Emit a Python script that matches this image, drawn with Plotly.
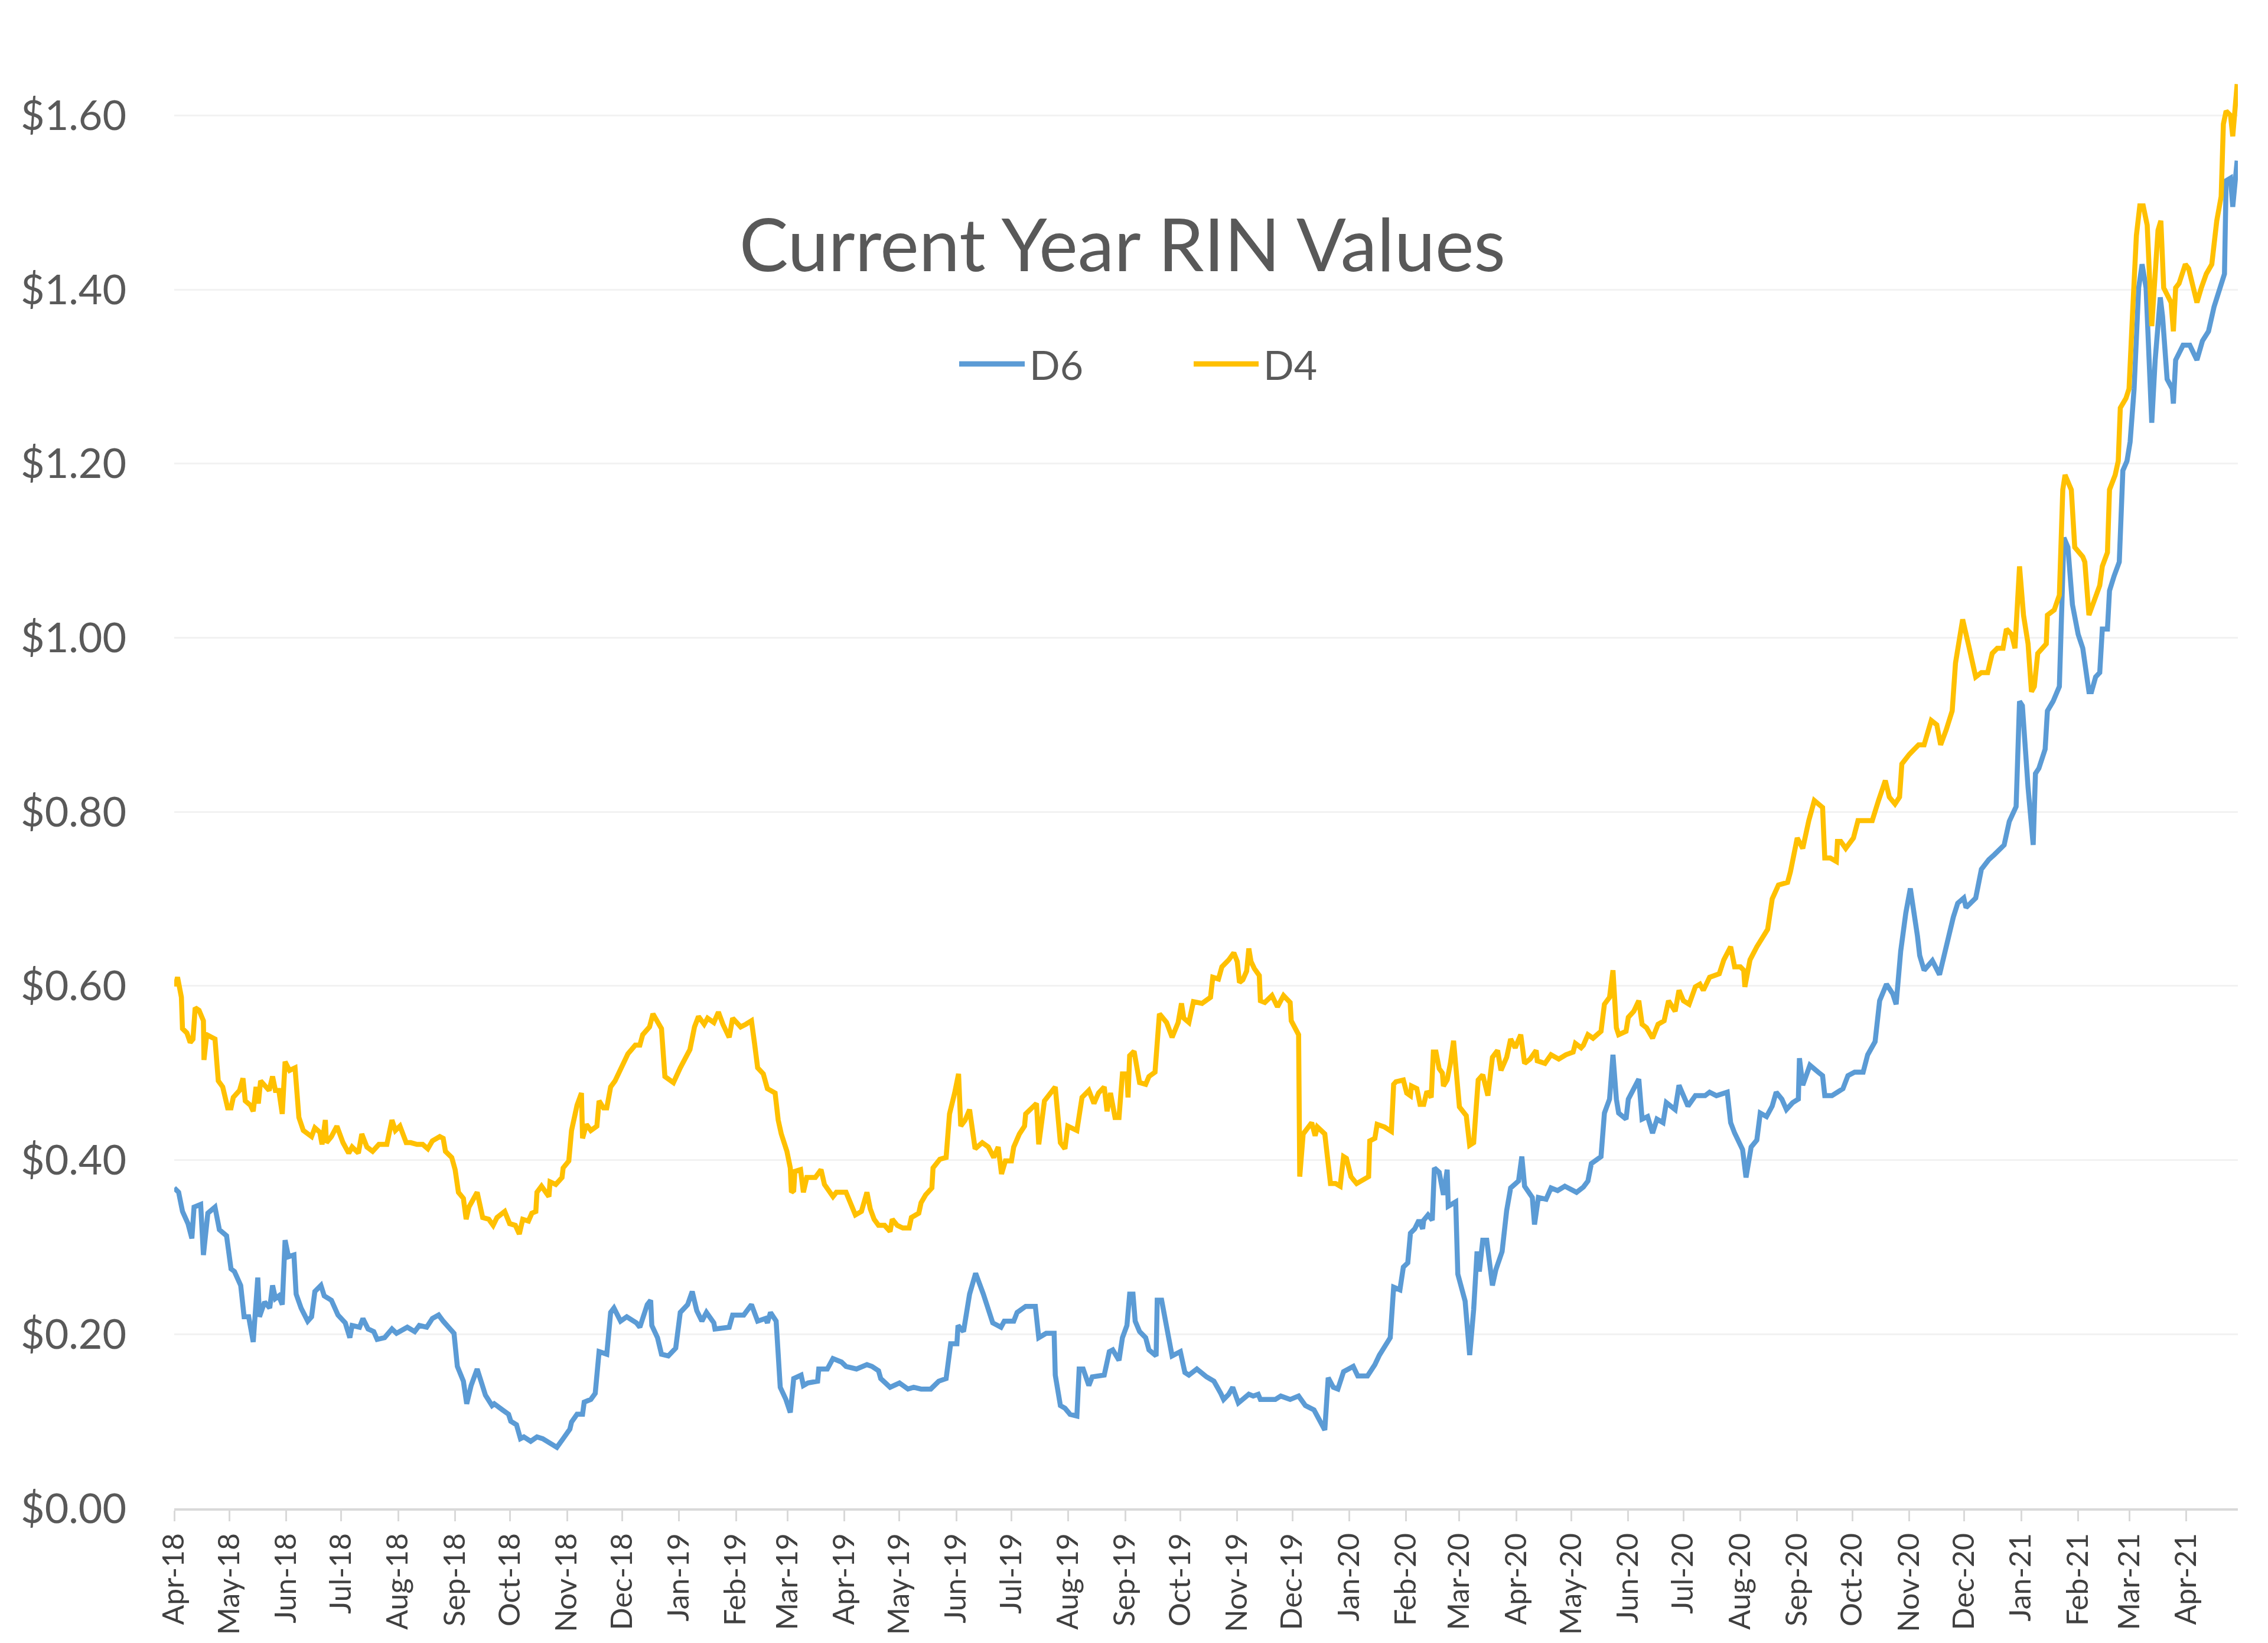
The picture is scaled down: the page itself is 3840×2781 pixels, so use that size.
import math
import pandas as pd
import plotly.graph_objects as go

# ---------------- data (positions in months since Apr-2018, values in $) ----------------
D6_month_pos = [
    0.00, 0.08, 0.15, 0.25, 0.32, 0.36, 0.48, 0.53, 0.61, 0.74, 0.82, 0.95, 1.03, 1.09, 1.20, 1.26,
    1.34, 1.42, 1.50, 1.53, 1.62, 1.71, 1.76, 1.81, 1.87, 1.93, 1.98, 2.04, 2.14, 2.18, 2.27, 2.39,
    2.46, 2.52, 2.63, 2.69, 2.82, 2.94, 3.07, 3.15, 3.19, 3.32, 3.38, 3.47, 3.57, 3.63, 3.76, 3.89,
    3.97, 4.16, 4.29, 4.37, 4.50, 4.60, 4.71, 4.79, 4.98, 5.04, 5.15, 5.21, 5.29, 5.40, 5.48, 5.55,
    5.67, 5.71, 5.86, 5.97, 6.01, 6.11, 6.18, 6.24, 6.36, 6.47, 6.57, 6.82, 6.93, 7.05, 7.08, 7.18,
    7.28, 7.31, 7.43, 7.51, 7.58, 7.72, 7.79, 7.85, 7.97, 8.08, 8.25, 8.31, 8.44, 8.50, 8.52, 8.62,
    8.69, 8.81, 8.94, 9.02, 9.15, 9.23, 9.31, 9.40, 9.48, 9.61, 9.63, 9.88, 9.94, 10.15, 10.30, 10.42,
    10.57, 10.61, 10.67, 10.78, 10.86, 10.97, 11.05, 11.11, 11.24, 11.28, 11.36, 11.53, 11.55, 11.70, 11.80, 11.95,
    12.03, 12.22, 12.41, 12.50, 12.62, 12.66, 12.83, 13.00, 13.15, 13.25, 13.38, 13.55, 13.69, 13.82, 13.90, 14.01,
    14.03, 14.13, 14.24, 14.35, 14.49, 14.66, 14.81, 14.87, 15.04, 15.10, 15.25, 15.42, 15.48, 15.61, 15.75, 15.77,
    15.86, 15.94, 16.03, 16.15, 16.19, 16.26, 16.36, 16.42, 16.63, 16.72, 16.78, 16.89, 16.95, 17.03, 17.08, 17.14,
    17.18, 17.26, 17.37, 17.43, 17.56, 17.58, 17.66, 17.75, 17.85, 18.00, 18.08, 18.15, 18.29, 18.46, 18.59, 18.71,
    18.76, 18.85, 18.92, 19.02, 19.21, 19.29, 19.38, 19.42, 19.69, 19.79, 19.96, 20.11, 20.23, 20.38, 20.49, 20.57,
    20.63, 20.72, 20.80, 20.90, 21.07, 21.15, 21.32, 21.45, 21.53, 21.72, 21.78, 21.89, 21.95, 22.03, 22.08, 22.16,
    22.24, 22.31, 22.33, 22.41, 22.49, 22.53, 22.62, 22.70, 22.77, 22.79, 22.93, 22.97, 23.10, 23.18, 23.25, 23.31,
    23.35, 23.41, 23.48, 23.58, 23.64, 23.75, 23.83, 23.90, 24.04, 24.10, 24.15, 24.29, 24.33, 24.40, 24.54, 24.63,
    24.75, 24.88, 25.09, 25.21, 25.29, 25.35, 25.52, 25.58, 25.67, 25.73, 25.79, 25.83, 25.96, 26.00, 26.19, 26.25,
    26.35, 26.44, 26.52, 26.63, 26.69, 26.85, 26.92, 27.08, 27.21, 27.38, 27.46, 27.58, 27.77, 27.83, 27.90, 28.00,
    28.04, 28.10, 28.19, 28.29, 28.35, 28.46, 28.56, 28.63, 28.73, 28.81, 28.92, 29.02, 29.04, 29.10, 29.23, 29.38,
    29.46, 29.50, 29.63, 29.73, 29.83, 29.92, 30.04, 30.19, 30.27, 30.40, 30.48, 30.60, 30.71, 30.77, 30.85, 30.94,
    31.02, 31.15, 31.19, 31.27, 31.42, 31.55, 31.67, 31.80, 31.88, 31.99, 32.03, 32.20, 32.30, 32.43, 32.53, 32.70,
    32.79, 32.91, 32.97, 33.02, 33.12, 33.21, 33.25, 33.31, 33.42, 33.46, 33.56, 33.67, 33.75, 33.82, 33.90, 34.00,
    34.09, 34.17, 34.21, 34.26, 34.34, 34.42, 34.47, 34.57, 34.61, 34.70, 34.80, 34.87, 34.95, 35.01, 35.08, 35.16,
    35.22, 35.29, 35.35, 35.39, 35.45, 35.54, 35.58, 35.66, 35.75, 35.77, 35.81, 35.94, 36.06, 36.19, 36.29, 36.40,
    36.50, 36.61, 36.69, 36.72, 36.80, 36.84, 36.92,
]
D6_values = [
    0.368, 0.363, 0.341, 0.327, 0.310, 0.346, 0.349, 0.291, 0.339, 0.346, 0.320, 0.313, 0.275, 0.272, 0.256, 0.220,
    0.220, 0.191, 0.265, 0.220, 0.237, 0.230, 0.256, 0.241, 0.244, 0.234, 0.308, 0.289, 0.291, 0.246, 0.230, 0.215,
    0.220, 0.249, 0.256, 0.244, 0.239, 0.222, 0.213, 0.196, 0.210, 0.208, 0.218, 0.206, 0.203, 0.194, 0.196, 0.206,
    0.201, 0.208, 0.203, 0.210, 0.208, 0.218, 0.222, 0.215, 0.201, 0.163, 0.146, 0.120, 0.141, 0.160, 0.144, 0.130,
    0.118, 0.120, 0.113, 0.108, 0.100, 0.096, 0.080, 0.082, 0.077, 0.082, 0.080, 0.070, 0.080, 0.091, 0.099, 0.108,
    0.108, 0.122, 0.125, 0.132, 0.180, 0.177, 0.225, 0.230, 0.215, 0.220, 0.213, 0.208, 0.234, 0.239, 0.210, 0.196,
    0.177, 0.175, 0.184, 0.225, 0.234, 0.249, 0.227, 0.215, 0.225, 0.213, 0.206, 0.208, 0.222, 0.222, 0.234, 0.215,
    0.218, 0.213, 0.225, 0.215, 0.139, 0.125, 0.110, 0.149, 0.153, 0.141, 0.144, 0.146, 0.160, 0.160, 0.172, 0.168,
    0.163, 0.160, 0.165, 0.163, 0.158, 0.149, 0.139, 0.144, 0.137, 0.139, 0.137, 0.137, 0.146, 0.149, 0.189, 0.189,
    0.210, 0.203, 0.246, 0.270, 0.246, 0.213, 0.208, 0.215, 0.215, 0.225, 0.232, 0.232, 0.196, 0.201, 0.201, 0.153,
    0.118, 0.115, 0.108, 0.106, 0.160, 0.160, 0.141, 0.151, 0.153, 0.180, 0.182, 0.170, 0.196, 0.210, 0.246, 0.246,
    0.215, 0.203, 0.196, 0.182, 0.175, 0.239, 0.239, 0.210, 0.175, 0.180, 0.156, 0.153, 0.160, 0.151, 0.146, 0.132,
    0.125, 0.131, 0.139, 0.121, 0.131, 0.129, 0.131, 0.125, 0.125, 0.129, 0.125, 0.129, 0.118, 0.113, 0.100, 0.090,
    0.150, 0.139, 0.137, 0.157, 0.163, 0.152, 0.152, 0.165, 0.176, 0.196, 0.254, 0.251, 0.277, 0.282, 0.316, 0.321,
    0.331, 0.321, 0.331, 0.337, 0.331, 0.391, 0.386, 0.360, 0.389, 0.347, 0.352, 0.269, 0.238, 0.176, 0.228, 0.295,
    0.272, 0.308, 0.308, 0.256, 0.274, 0.295, 0.342, 0.368, 0.376, 0.404, 0.370, 0.357, 0.326, 0.357, 0.355, 0.368,
    0.365, 0.370, 0.363, 0.369, 0.376, 0.396, 0.404, 0.454, 0.470, 0.521, 0.470, 0.454, 0.447, 0.470, 0.493, 0.447,
    0.450, 0.431, 0.447, 0.443, 0.466, 0.458, 0.486, 0.462, 0.474, 0.474, 0.478, 0.474, 0.478, 0.443, 0.431, 0.419,
    0.412, 0.380, 0.415, 0.423, 0.454, 0.450, 0.462, 0.478, 0.470, 0.458, 0.466, 0.470, 0.517, 0.486, 0.509, 0.501,
    0.497, 0.474, 0.474, 0.478, 0.482, 0.497, 0.501, 0.501, 0.521, 0.536, 0.583, 0.602, 0.591, 0.579, 0.640, 0.684,
    0.712, 0.657, 0.635, 0.618, 0.629, 0.613, 0.646, 0.679, 0.695, 0.701, 0.690, 0.701, 0.734, 0.745, 0.751, 0.762,
    0.789, 0.806, 0.927, 0.922, 0.828, 0.762, 0.844, 0.850, 0.872, 0.916, 0.927, 0.944, 1.115, 1.104, 1.038, 1.004,
    0.988, 0.960, 0.938, 0.938, 0.955, 0.960, 1.010, 1.010, 1.054, 1.071, 1.087, 1.192, 1.203, 1.225, 1.286, 1.402,
    1.429, 1.402, 1.313, 1.247, 1.319, 1.391, 1.369, 1.297, 1.286, 1.269, 1.319, 1.336, 1.336, 1.319, 1.341, 1.352,
    1.380, 1.402, 1.418, 1.525, 1.528, 1.495, 1.548,
]

D4_month_pos = [
    0.00, 0.02, 0.06, 0.13, 0.15, 0.23, 0.29, 0.34, 0.38, 0.45, 0.53, 0.54, 0.59, 0.67, 0.74, 0.80,
    0.88, 0.97, 1.03, 1.07, 1.18, 1.24, 1.28, 1.37, 1.42, 1.47, 1.51, 1.55, 1.64, 1.70, 1.76, 1.81,
    1.87, 1.93, 1.98, 2.06, 2.16, 2.23, 2.31, 2.39, 2.46, 2.52, 2.61, 2.65, 2.71, 2.73, 2.82, 2.92,
    3.03, 3.13, 3.19, 3.30, 3.36, 3.45, 3.55, 3.66, 3.80, 3.89, 3.95, 4.03, 4.14, 4.22, 4.33, 4.43,
    4.52, 4.60, 4.73, 4.79, 4.83, 4.94, 5.00, 5.06, 5.15, 5.20, 5.25, 5.40, 5.50, 5.61, 5.69, 5.76,
    5.90, 5.99, 6.09, 6.16, 6.22, 6.32, 6.38, 6.45, 6.47, 6.55, 6.62, 6.68, 6.70, 6.80, 6.91, 6.93,
    7.03, 7.08, 7.18, 7.26, 7.28, 7.35, 7.43, 7.54, 7.58, 7.66, 7.72, 7.79, 7.87, 8.02, 8.10, 8.23,
    8.31, 8.36, 8.48, 8.54, 8.58, 8.69, 8.75, 8.90, 9.02, 9.19, 9.27, 9.34, 9.44, 9.50, 9.61, 9.69,
    9.77, 9.88, 9.94, 10.09, 10.19, 10.30, 10.36, 10.42, 10.53, 10.61, 10.76, 10.82, 10.88, 10.99, 11.05, 11.07,
    11.11, 11.13, 11.23, 11.28, 11.34, 11.49, 11.59, 11.65, 11.80, 11.86, 12.03, 12.11, 12.20, 12.31, 12.41, 12.47,
    12.54, 12.62, 12.73, 12.83, 12.87, 12.96, 13.06, 13.17, 13.21, 13.34, 13.38, 13.46, 13.57, 13.59, 13.71, 13.82,
    13.88, 13.97, 14.04, 14.08, 14.16, 14.24, 14.34, 14.47, 14.58, 14.68, 14.76, 14.82, 14.89, 15.00, 15.04, 15.14,
    15.23, 15.25, 15.39, 15.44, 15.48, 15.58, 15.77, 15.86, 15.94, 15.99, 16.15, 16.24, 16.36, 16.45, 16.53, 16.63,
    16.68, 16.74, 16.82, 16.89, 16.95, 17.03, 17.05, 17.08, 17.16, 17.26, 17.37, 17.43, 17.54, 17.62, 17.75, 17.85,
    17.96, 18.02, 18.06, 18.15, 18.23, 18.38, 18.53, 18.57, 18.67, 18.73, 18.85, 18.94, 19.00, 19.04, 19.10, 19.17,
    19.21, 19.25, 19.31, 19.40, 19.42, 19.50, 19.63, 19.73, 19.84, 19.96, 19.98, 20.11, 20.13, 20.19, 20.34, 20.40,
    20.44, 20.57, 20.67, 20.76, 20.84, 20.90, 20.95, 21.03, 21.13, 21.24, 21.34, 21.36, 21.45, 21.49, 21.62, 21.74,
    21.78, 21.82, 21.95, 22.01, 22.08, 22.10, 22.20, 22.26, 22.33, 22.39, 22.47, 22.51, 22.56, 22.62, 22.68, 22.70,
    22.77, 22.83, 22.89, 23.00, 23.12, 23.18, 23.25, 23.33, 23.41, 23.50, 23.58, 23.67, 23.73, 23.83, 23.90, 23.98,
    24.08, 24.15, 24.25, 24.36, 24.38, 24.52, 24.63, 24.77, 24.90, 25.03, 25.07, 25.17, 25.21, 25.29, 25.38, 25.52,
    25.58, 25.67, 25.73, 25.79, 25.83, 25.96, 26.00, 26.10, 26.19, 26.25, 26.33, 26.44, 26.54, 26.65, 26.73, 26.85,
    26.92, 27.00, 27.10, 27.21, 27.29, 27.35, 27.46, 27.63, 27.71, 27.83, 27.90, 28.00, 28.06, 28.08, 28.17, 28.29,
    28.40, 28.48, 28.56, 28.67, 28.83, 28.88, 29.00, 29.10, 29.21, 29.31, 29.46, 29.50, 29.60, 29.71, 29.73, 29.79,
    29.88, 30.02, 30.10, 30.21, 30.35, 30.46, 30.58, 30.65, 30.75, 30.83, 30.87, 31.00, 31.08, 31.17, 31.27, 31.40,
    31.50, 31.57, 31.67, 31.78, 31.84, 31.97, 32.07, 32.20, 32.30, 32.41, 32.49, 32.58, 32.68, 32.74, 32.83, 32.89,
    32.97, 33.04, 33.12, 33.18, 33.23, 33.29, 33.44, 33.46, 33.58, 33.67, 33.73, 33.77, 33.88, 33.94, 34.09, 34.13,
    34.21, 34.28, 34.38, 34.42, 34.47, 34.57, 34.61, 34.72, 34.78, 34.82, 34.93, 34.99, 35.05, 35.12, 35.18, 35.24,
    35.31, 35.37, 35.39, 35.50, 35.55, 35.60, 35.64, 35.73, 35.77, 35.81, 35.87, 35.98, 36.04, 36.15, 36.19, 36.27,
    36.36, 36.46, 36.55, 36.63, 36.67, 36.72, 36.80, 36.84, 36.92,
]
D4_values = [
    0.606, 0.600, 0.610, 0.587, 0.551, 0.546, 0.535, 0.539, 0.575, 0.572, 0.560, 0.515, 0.544, 0.541, 0.539, 0.491,
    0.484, 0.460, 0.460, 0.472, 0.480, 0.494, 0.468, 0.463, 0.456, 0.484, 0.465, 0.491, 0.484, 0.480, 0.496, 0.480,
    0.480, 0.453, 0.513, 0.503, 0.506, 0.449, 0.434, 0.430, 0.427, 0.437, 0.432, 0.418, 0.446, 0.420, 0.427, 0.439,
    0.420, 0.408, 0.415, 0.408, 0.430, 0.415, 0.410, 0.418, 0.418, 0.446, 0.434, 0.439, 0.420, 0.420, 0.418, 0.418,
    0.413, 0.422, 0.427, 0.425, 0.410, 0.403, 0.389, 0.363, 0.356, 0.332, 0.346, 0.363, 0.334, 0.332, 0.325, 0.334,
    0.341, 0.327, 0.325, 0.315, 0.332, 0.330, 0.339, 0.341, 0.363, 0.370, 0.363, 0.358, 0.375, 0.372, 0.380, 0.391,
    0.399, 0.434, 0.463, 0.477, 0.425, 0.441, 0.434, 0.439, 0.468, 0.460, 0.460, 0.484, 0.491, 0.513, 0.522, 0.532,
    0.532, 0.544, 0.553, 0.568, 0.563, 0.551, 0.496, 0.489, 0.506, 0.527, 0.553, 0.565, 0.556, 0.563, 0.558, 0.570,
    0.556, 0.541, 0.563, 0.553, 0.556, 0.560, 0.534, 0.506, 0.499, 0.482, 0.477, 0.446, 0.430, 0.410, 0.391, 0.363,
    0.365, 0.387, 0.389, 0.363, 0.380, 0.380, 0.389, 0.372, 0.358, 0.363, 0.363, 0.351, 0.337, 0.341, 0.363, 0.344,
    0.332, 0.325, 0.325, 0.318, 0.332, 0.325, 0.322, 0.322, 0.334, 0.339, 0.351, 0.360, 0.368, 0.391, 0.401, 0.403,
    0.453, 0.477, 0.499, 0.439, 0.446, 0.458, 0.413, 0.420, 0.415, 0.403, 0.415, 0.384, 0.399, 0.399, 0.415, 0.430,
    0.439, 0.453, 0.463, 0.465, 0.418, 0.468, 0.484, 0.420, 0.413, 0.439, 0.434, 0.472, 0.480, 0.465, 0.477, 0.484,
    0.456, 0.477, 0.449, 0.449, 0.499, 0.499, 0.472, 0.520, 0.525, 0.489, 0.487, 0.496, 0.501, 0.568, 0.558, 0.541,
    0.558, 0.580, 0.563, 0.558, 0.582, 0.580, 0.587, 0.610, 0.608, 0.622, 0.630, 0.638, 0.628, 0.604, 0.607, 0.617,
    0.643, 0.628, 0.620, 0.612, 0.583, 0.581, 0.589, 0.576, 0.589, 0.581, 0.560, 0.544, 0.381, 0.430, 0.443, 0.428,
    0.438, 0.430, 0.373, 0.373, 0.370, 0.404, 0.402, 0.381, 0.373, 0.378, 0.381, 0.422, 0.425, 0.441, 0.438, 0.433,
    0.487, 0.490, 0.492, 0.477, 0.474, 0.485, 0.482, 0.464, 0.464, 0.479, 0.472, 0.524, 0.524, 0.505, 0.500, 0.485,
    0.492, 0.511, 0.537, 0.461, 0.451, 0.417, 0.420, 0.492, 0.498, 0.474, 0.518, 0.526, 0.503, 0.518, 0.539, 0.529,
    0.544, 0.511, 0.516, 0.526, 0.514, 0.511, 0.521, 0.516, 0.521, 0.524, 0.534, 0.529, 0.532, 0.544, 0.540, 0.548,
    0.579, 0.587, 0.618, 0.552, 0.544, 0.548, 0.564, 0.571, 0.583, 0.556, 0.552, 0.540, 0.556, 0.560, 0.583, 0.571,
    0.595, 0.583, 0.579, 0.599, 0.602, 0.595, 0.610, 0.614, 0.630, 0.645, 0.622, 0.622, 0.618, 0.599, 0.630, 0.645,
    0.657, 0.665, 0.700, 0.716, 0.719, 0.731, 0.770, 0.758, 0.790, 0.813, 0.805, 0.747, 0.747, 0.743, 0.766, 0.766,
    0.758, 0.770, 0.790, 0.790, 0.790, 0.813, 0.836, 0.817, 0.809, 0.817, 0.855, 0.866, 0.872, 0.877, 0.877, 0.905,
    0.900, 0.877, 0.894, 0.916, 0.971, 1.021, 0.993, 0.955, 0.960, 0.960, 0.982, 0.988, 0.988, 1.010, 1.004, 0.988,
    1.082, 1.026, 0.993, 0.938, 0.944, 0.982, 0.993, 1.026, 1.032, 1.049, 1.170, 1.187, 1.170, 1.104, 1.093, 1.087,
    1.026, 1.037, 1.054, 1.060, 1.082, 1.098, 1.170, 1.187, 1.203, 1.264, 1.275, 1.286, 1.369, 1.462, 1.496, 1.496,
    1.474, 1.369, 1.358, 1.468, 1.479, 1.402, 1.396, 1.385, 1.352, 1.402, 1.407, 1.429, 1.424, 1.391, 1.385, 1.402,
    1.418, 1.429, 1.479, 1.507, 1.590, 1.605, 1.600, 1.576, 1.636,
]

Y_TICKS = [0.0, 0.2, 0.4, 0.6, 0.8, 1.0, 1.2, 1.4, 1.6]
TITLE = "Current Year RIN Values"
SERIES = [("D6", "#5B9BD5"), ("D4", "#FFC000")]


def month_pos_to_date(m):
    k = int(math.floor(m))
    start = pd.Timestamp(2018, 4, 1) + pd.DateOffset(months=k)
    return start + pd.Timedelta(days=(m - k) * start.days_in_month)


d6_dates = [month_pos_to_date(m) for m in D6_month_pos]
d4_dates = [month_pos_to_date(m) for m in D4_month_pos]

FONT = "Lato"
TXT = "#595959"

fig = go.Figure()
fig.add_trace(go.Scatter(x=d6_dates, y=D6_values, mode="lines", name="D6",
                         line=dict(color=SERIES[0][1], width=8.5), showlegend=False))
fig.add_trace(go.Scatter(x=d4_dates, y=D4_values, mode="lines", name="D4",
                         line=dict(color=SERIES[1][1], width=8.5), showlegend=False))

# plot-area geometry (pixels) used to place legend items
L, R, T, B = 287, 59, 40, 236
W, H = 3840, 2781
pw, ph = W - L - R, H - T - B


def px_to_paper(px, py):
    return (px - L) / pw, (H - B - py) / ph


LEGEND_Y = 608
shapes = []
annotations = []
legend_items = [(SERIES[0], 1616, 1727), (SERIES[1], 2013, 2123)]
for (name, color), x0, x1 in legend_items:
    ax0, ay = px_to_paper(x0, LEGEND_Y)
    ax1, _ = px_to_paper(x1, LEGEND_Y)
    shapes.append(dict(type="line", xref="paper", yref="paper", x0=ax0, x1=ax1, y0=ay, y1=ay,
                       line=dict(color=color, width=9)))
    tx, _ = px_to_paper(x1 + 6, LEGEND_Y)
    annotations.append(dict(xref="paper", yref="paper", x=tx, y=ay, text=name, showarrow=False,
                            xanchor="left", yanchor="middle",
                            font=dict(family=FONT, size=68, color=TXT)))

fig.update_layout(
    width=W, height=H,
    margin=dict(l=L, r=R, t=T, b=B),
    paper_bgcolor="white", plot_bgcolor="white",
    title=dict(text=TITLE, xref="container", yref="container", x=0.4928, y=1 - 408 / H,
               xanchor="center", yanchor="middle",
               font=dict(family=FONT, size=124, color=TXT)),
    shapes=shapes, annotations=annotations,
    showlegend=False,
)
fig.update_xaxes(
    type="date",
    range=["2018-04-01", "2021-04-29"],
    tick0="2018-04-01", dtick="M1", tickformat="%b-%y", tickangle=-90,
    ticks="outside", ticklen=18, tickwidth=3, tickcolor="#D9D9D9",
    showline=True, linecolor="#D9D9D9", linewidth=4,
    showgrid=False, zeroline=False, automargin=False,
    tickfont=dict(family=FONT, size=50, color="#404040"),
)
fig.update_yaxes(
    range=[0, 1.7],
    tickvals=Y_TICKS, tickformat="$.2f",
    showgrid=True, gridcolor="#F2F2F2", gridwidth=3,
    zeroline=False, showline=False, ticks="", automargin=False,
    ticklabelstandoff=80,
    tickfont=dict(family=FONT, size=70, color=TXT),
)

fig.write_html("out.html")
